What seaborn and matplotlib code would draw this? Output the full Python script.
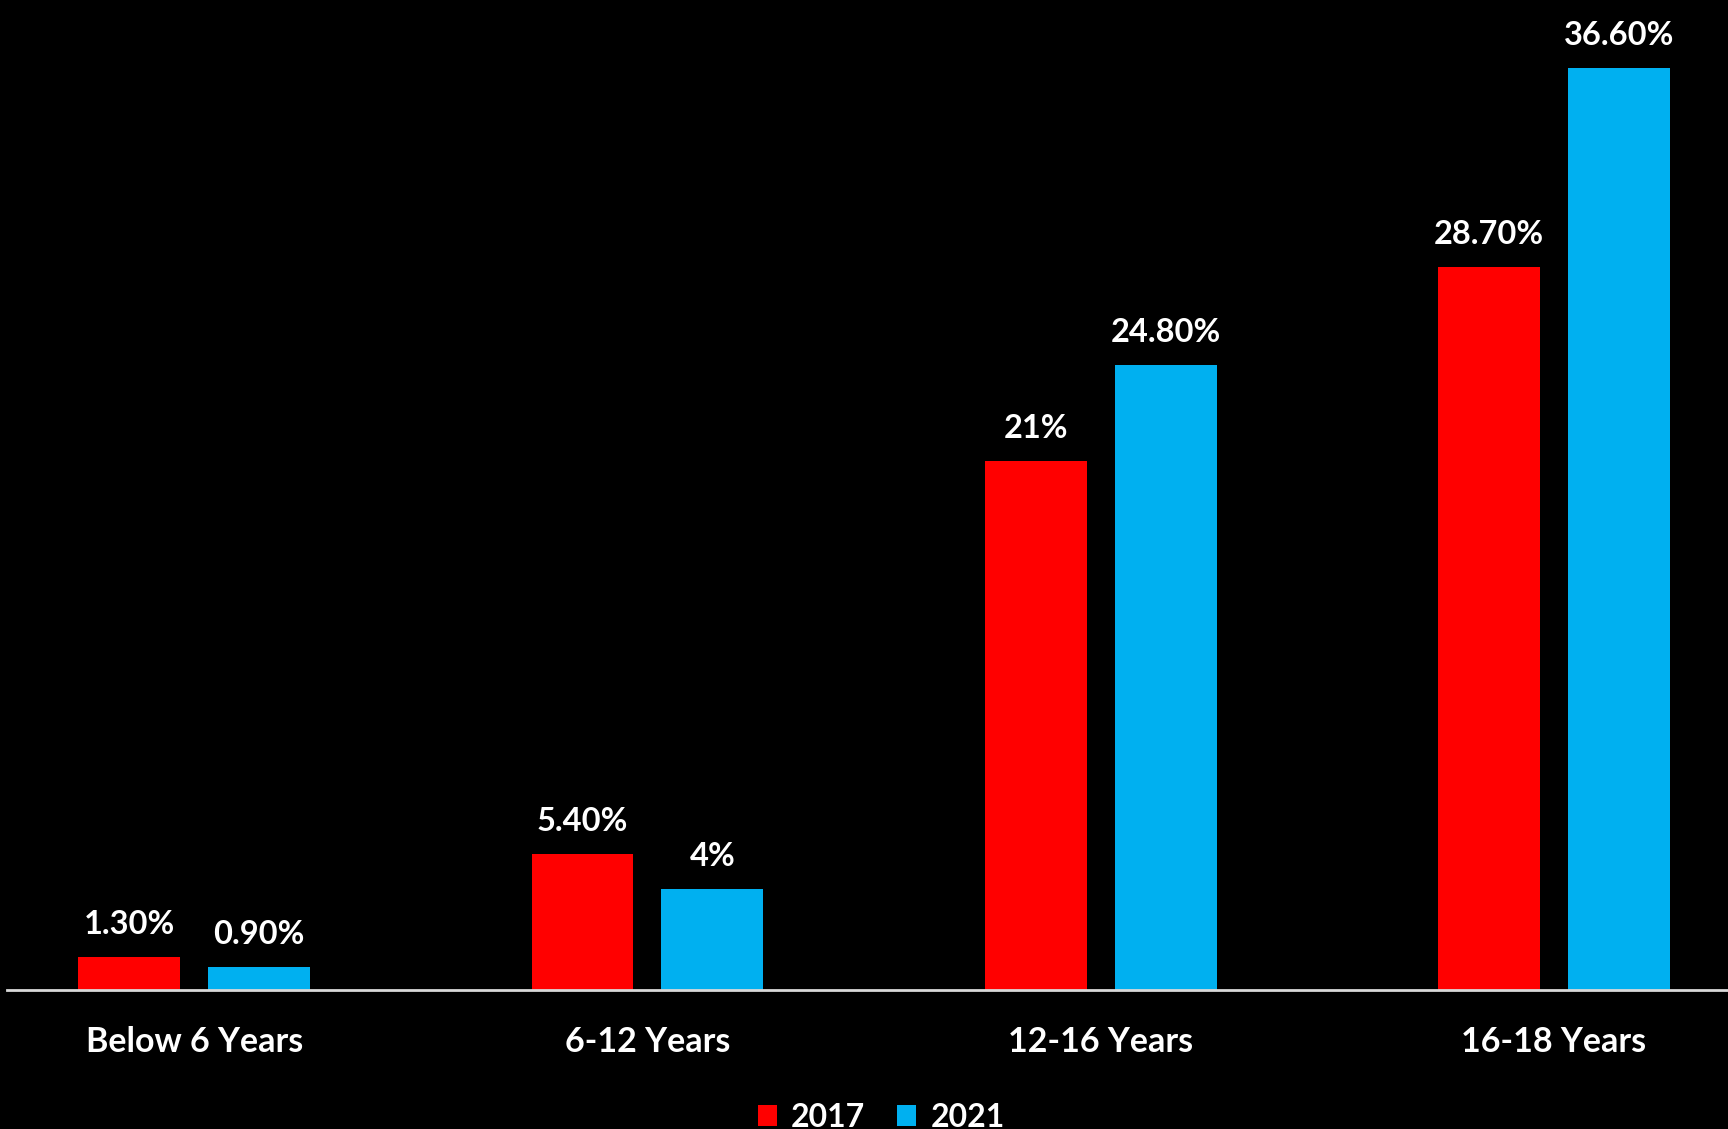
import matplotlib
matplotlib.use("Agg")
import matplotlib.pyplot as plt
import seaborn as sns
import pandas as pd
from matplotlib.patches import Patch

categories = ["Below 6 Years", "6-12 Years", "12-16 Years", "16-18 Years"]
years = ["2017", "2021"]
values_2017 = [1.3, 5.4, 21.0, 28.7]
values_2021 = [0.9, 4.0, 24.8, 36.6]
labels_2017 = ["1.30%", "5.40%", "21%", "28.70%"]
labels_2021 = ["0.90%", "4%", "24.80%", "36.60%"]

colors = {"2017": "#FF0000", "2021": "#00B0F0"}

df = pd.DataFrame({
    "category": categories * 2,
    "year": ["2017"] * 4 + ["2021"] * 4,
    "value": values_2017 + values_2021,
})

sns.set_theme(style="dark")
plt.rcParams["font.family"] = ["Lato", "DejaVu Sans"]

fig = plt.figure(figsize=(17.28, 11.29), dpi=100, facecolor="black")
ax = fig.add_axes([7 / 1728, 0.123, 1 - 7 / 1728, 0.877])
ax.set_facecolor("black")

sns.barplot(data=df, x="category", y="value", hue="year", order=categories,
            hue_order=years, palette=colors, width=0.573, gap=0.215,
            saturation=1, linewidth=0, edgecolor="none", ax=ax, legend=False)

for container, labs in zip(ax.containers, [labels_2017, labels_2021]):
    ax.bar_label(container, labels=labs, padding=13, color="white",
                 fontsize=23.5, fontweight="bold")

ax.set_xlim(-0.413, 3.384)
ax.set_ylim(0, 39.3)
ax.set_xlabel("")
ax.set_ylabel("")
ax.set_yticks([])
ax.grid(False)
for s in ["top", "right", "left"]:
    ax.spines[s].set_visible(False)
ax.spines["bottom"].set_color("#D9D9D9")
ax.spines["bottom"].set_linewidth(2)
ax.tick_params(axis="x", length=0, pad=26, labelsize=24.5, labelcolor="white")
for t in ax.get_xticklabels():
    t.set_fontweight("bold")

handles = [Patch(facecolor=colors[y], edgecolor="none", label=y) for y in years]
fig.legend(handles=handles, loc="lower center", bbox_to_anchor=(0.51, -0.028),
           ncol=2, frameon=False, labelcolor="white",
           prop={"weight": "bold", "size": 23},
           handlelength=0.6, handleheight=0.6, handletextpad=0.45,
           columnspacing=1.0)

fig.savefig("out.png", dpi=100, facecolor="black")
